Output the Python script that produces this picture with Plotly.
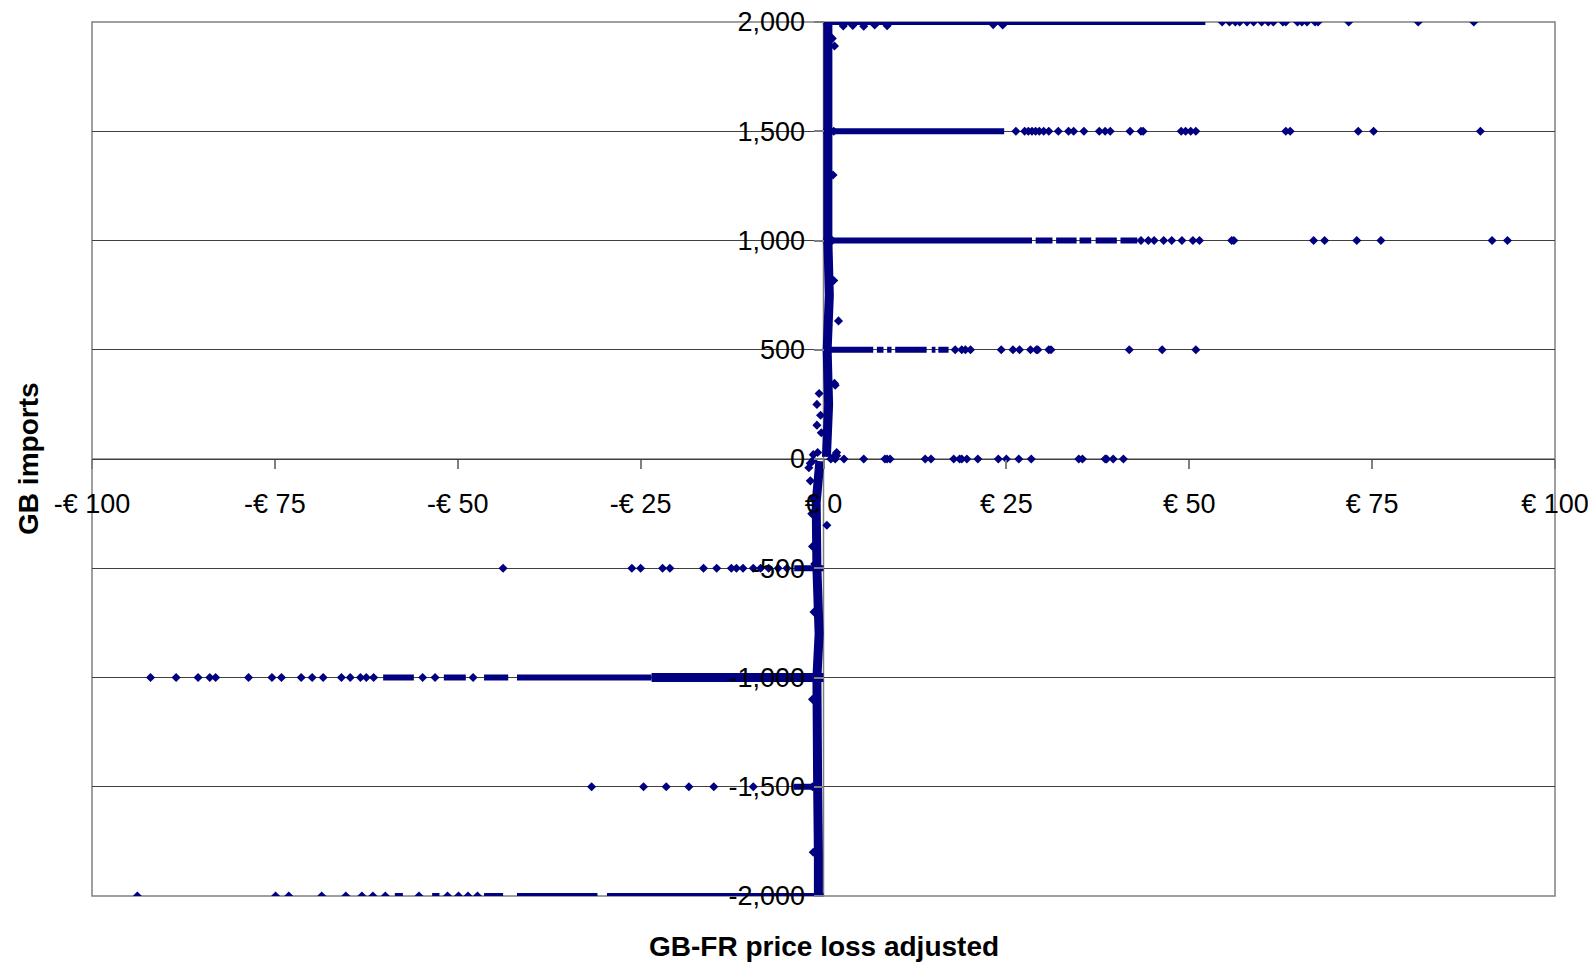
import plotly.graph_objects as go

# ---------------- data ----------------
x_tickvals = [-100, -75, -50, -25, 0, 25, 50, 75, 100]
x_ticktext = ["-€ 100", "-€ 75", "-€ 50", "-€ 25", "€ 0", "€ 25", "€ 50", "€ 75", "€ 100"]
y_tickvals = [-2000, -1500, -1000, -500, 0, 500, 1000, 1500, 2000]
y_ticktext = ["-2,000", "-1,500", "-1,000", "-500", "0", "500", "1,000", "1,500", "2,000"]

# individually readable points, per flow level (GB imports, MW)
row_2000_x = [54.5, 55.5, 56.3, 56.9, 57.9, 58.8, 59.9, 60.8, 61.5, 62.8, 63.2, 64.8,
              65.4, 66.1, 67.2, 67.6, 71.8, 81.3, 88.9]
row_1500_x = [26.3, 27.5, 28.0, 28.5, 29.0, 29.5, 30.1, 30.8, 32.1, 33.5, 34.2, 35.6,
              37.7, 38.5, 39.2, 41.9, 43.4, 43.7, 48.9, 49.5, 50.2, 50.9, 63.2, 63.8,
              73.1, 75.2, 89.8]
row_1000_x = [43.4, 44.4, 45.2, 46.5, 47.6, 49.0, 50.5, 51.4, 55.8, 56.1, 67.0, 68.5,
              72.9, 76.2, 91.4, 93.5]
row_500_x = [18.0, 18.9, 19.4, 20.1, 24.3, 25.9, 26.8, 28.3, 29.1, 29.3, 30.8, 31.1,
             41.8, 46.3, 50.9]
row_0_x = [1.6, 2.8, 5.5, 8.4, 8.7, 9.1, 13.9, 14.7, 17.8, 18.6, 18.9, 19.6, 21.1, 23.9,
           25.0, 26.7, 28.4, 34.9, 35.4, 38.5, 38.7, 39.6, 41.0]
row_m500_x = [-43.8, -26.2, -25.0, -22.0, -21.0, -16.4, -14.6, -12.6, -11.9, -11.0, -9.6,
              -8.6, -7.5, -6.2, -5.0]
row_m1000_x = [-92.0, -88.5, -85.5, -83.9, -83.1, -78.6, -75.4, -74.1, -71.4, -69.9, -68.4,
               -65.9, -64.7, -63.3, -62.5, -61.5, -54.8, -53.1, -47.9]
row_m1500_x = [-31.7, -24.6, -21.5, -18.4, -15.0, -9.6]
row_m2000_x = [-93.8, -74.9, -73.1, -68.6, -65.3, -63.1, -61.6, -59.9, -55.3, -51.4, -49.9,
               -48.6, -47.3]

# stretches where points overlap too densely to separate: from x, to x, at flow level
band_x0 = [0.0, 0.0, 0.0, 29.0, 31.8, 35.0, 37.2, 40.6, 0.0, 7.3, 8.7, 9.8, 14.8, 15.7,
           -4.0, -60.2, -51.9, -46.4, -41.9, -4.1, -58.6, -53.5, -46.4, -41.9, -29.6]
band_x1 = [52.2, 24.7, 28.5, 31.3, 34.6, 36.6, 40.1, 42.9, 6.8, 8.2, 9.3, 14.1, 15.3, 17.1,
           0.0, -56.0, -48.9, -43.1, -23.5, -0.9, -57.5, -52.5, -43.8, -30.9, 0.0]
band_y = [2000, 1500, 1000, 1000, 1000, 1000, 1000, 1000, 500, 500, 500, 500, 500, 500,
          -500, -1000, -1000, -1000, -1000, -1500, -2000, -2000, -2000, -2000, -2000]
# the heaviest stretch (-1,000 level next to zero)
heavy_x0 = [-23.5]
heavy_x1 = [0.0]
heavy_y = [-1000]

# near-zero price column (intermediate flows)
col_pos_x = [0.4, 0.7, 0.5, 0.8, 0.6, 0.5, 0.7, 0.6, 0.6]
col_pos_y = [10, 250, 500, 750, 1000, 1300, 1500, 1800, 2000]
col_neg_x = [-0.5, -1.0, -0.9, -0.6, -0.9, -0.7, -0.8, -0.7, -0.7]
col_neg_y = [-10, -200, -500, -800, -1000, -1300, -1500, -1800, -2000]
col_pts_x = [2.05, 1.6, 1.2, 1.5, 1.8, -0.6, -0.9, -0.4, -0.9, -0.3, 0.46, -1.8, -2.0,
             -1.6, -1.4, -1.5, -1.2, 1.4, 1.5, 1.3, -1.3, -1.5, -1.4, 1.8, 1.0, -1.4,
             -1.4, -0.8, 1.3, -1.8, 2.7, 4.0, 5.5, 7.0, 8.7, 23.2, 24.5, 1.2, 1.4, -1.5]
col_pts_y = [632, 338, 1925, 1890, 30, 300, 250, 200, 155, 120, -303, -100, -40,
             -250, -180, -400, -480, 817, 346, 1300, -700, -1100, -1800, 15, 0, -5,
             20, 30, 8, -20, 1982, 1984, 1981, 1986, 1983, 1988, 1986, 1000, 1500, -1500]

# ---------------- figure ----------------
NAVY = "#000080"
FONT = "Liberation Sans, Arial, sans-serif"

pts_x, pts_y = [], []
for xs, lvl in [(row_2000_x, 2000), (row_1500_x, 1500), (row_1000_x, 1000),
                (row_500_x, 500), (row_0_x, 0), (row_m500_x, -500),
                (row_m1000_x, -1000), (row_m1500_x, -1500), (row_m2000_x, -2000)]:
    pts_x += xs
    pts_y += [lvl] * len(xs)
pts_x += col_pts_x
pts_y += col_pts_y


def segs(x0s, x1s, ys):
    bx, by = [], []
    for a, b, y in zip(x0s, x1s, ys):
        bx += [a, b, None]
        by += [y, y, None]
    return bx, by


fig = go.Figure()

bx, by = segs(band_x0, band_x1, band_y)
fig.add_trace(go.Scatter(x=bx, y=by, mode="lines", line=dict(color=NAVY, width=6),
                         hoverinfo="skip", showlegend=False))
hx, hy = segs(heavy_x0, heavy_x1, heavy_y)
fig.add_trace(go.Scatter(x=hx, y=hy, mode="lines", line=dict(color=NAVY, width=9),
                         hoverinfo="skip", showlegend=False))
fig.add_trace(go.Scatter(x=col_pos_x, y=col_pos_y, mode="lines",
                         line=dict(color=NAVY, width=9), hoverinfo="skip", showlegend=False))
fig.add_trace(go.Scatter(x=col_neg_x, y=col_neg_y, mode="lines",
                         line=dict(color=NAVY, width=9), hoverinfo="skip", showlegend=False))
fig.add_trace(go.Scatter(x=pts_x, y=pts_y, mode="markers",
                         marker=dict(symbol="diamond", size=7, color=NAVY,
                                     line=dict(width=0)),
                         showlegend=False))

fig.update_layout(
    width=1588, height=955,
    margin=dict(l=84, r=41, t=14, b=67, autoexpand=False),
    paper_bgcolor="white", plot_bgcolor="white",
    font=dict(family=FONT, size=27, color="black"),
    showlegend=False,
    xaxis=dict(range=[-100, 100], anchor="free", position=0.5, automargin=False,
               tickvals=x_tickvals, ticktext=x_ticktext,
               showgrid=False, zeroline=False, showline=False,
               ticks="outside", ticklen=9, tickcolor="#808080", tickwidth=1.5,
               ticklabelstandoff=12, ticklabeloverflow="allow",
               tickfont=dict(family=FONT, size=27, color="black")),
    yaxis=dict(range=[-2000, 2000], anchor="free", position=0.5, automargin=False,
               tickvals=y_tickvals, ticktext=y_ticktext,
               showgrid=True, gridcolor="#404040", gridwidth=1,
               zeroline=False, showline=False,
               ticks="outside", ticklen=10, tickcolor="#808080", tickwidth=1.5,
               ticklabelstandoff=3, ticklabeloverflow="allow",
               tickfont=dict(family=FONT, size=27, color="black")),
    shapes=[
        dict(type="line", xref="x", yref="paper", x0=0, x1=0, y0=0, y1=1,
             line=dict(color="#808080", width=1.5), layer="below"),
        dict(type="line", xref="paper", yref="y", x0=0, x1=1, y0=0, y1=0,
             line=dict(color="#808080", width=1.5), layer="below"),
        dict(type="rect", xref="paper", yref="paper", x0=0, x1=1, y0=0, y1=1,
             line=dict(color="#808080", width=1.5), layer="below"),
    ],
    annotations=[
        dict(text="<b>GB imports</b>", xref="paper", yref="paper", x=-0.0438, y=0.5,
             xanchor="center", yanchor="middle", textangle=-90, showarrow=False,
             font=dict(family=FONT, size=28, color="black")),
        dict(text="<b>GB-FR price loss adjusted</b>", xref="paper", yref="paper",
             x=0.5, y=-0.0583, xanchor="center", yanchor="middle", showarrow=False,
             font=dict(family=FONT, size=28, color="black")),
    ],
)

fig.write_html("out.html")
